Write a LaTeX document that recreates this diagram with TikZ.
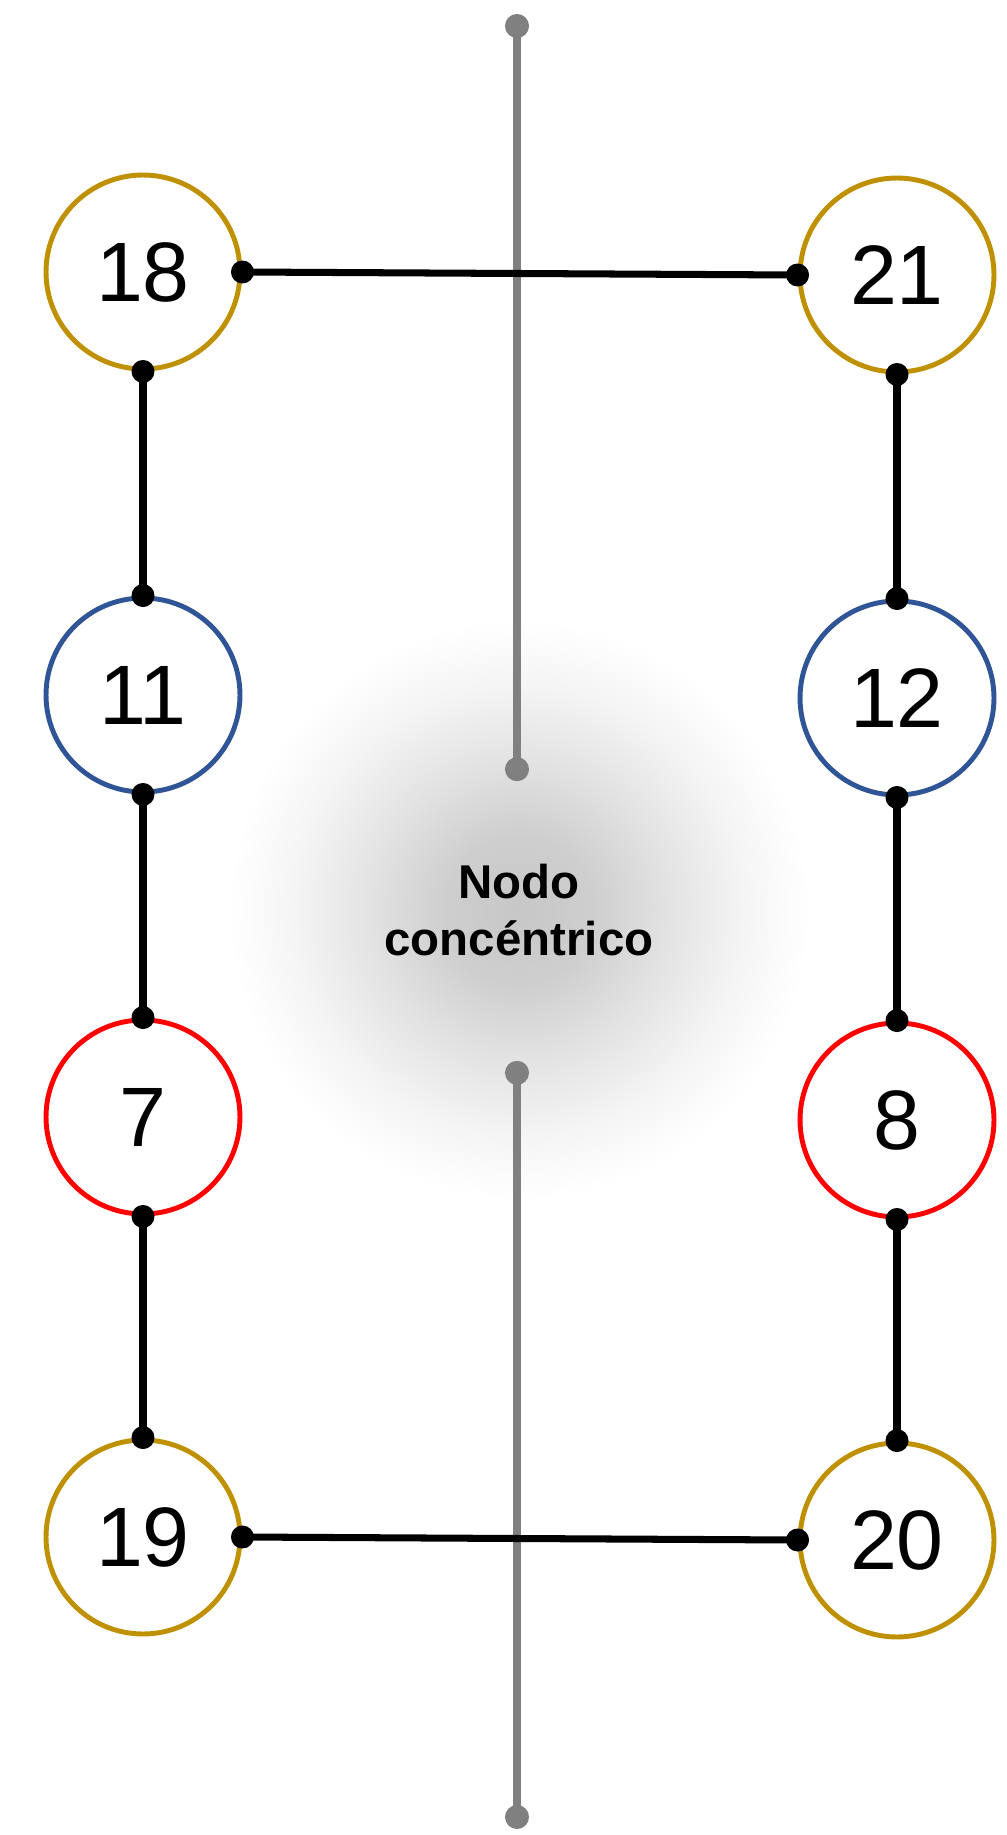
\documentclass[tikz,border=0pt]{standalone}
\usepackage{fontspec}
\setmainfont{Liberation Sans}
\usepackage{xcolor}
\usepackage{tikz}
\usetikzlibrary{arrows.meta,calc}
\definecolor{ringgold}{HTML}{BF9000}
\definecolor{ringblue}{HTML}{2F5597}
\definecolor{ringred}{HTML}{FF0000}
\definecolor{axisgray}{HTML}{808080}
\pgfdeclareradialshading{hubglow}{\pgfpoint{0bp}{0bp}}{%
  color(0bp)=(black!22); color(6bp)=(black!19); color(12bp)=(black!11);
  color(18bp)=(black!4); color(23bp)=(white); color(50bp)=(white)}

\begin{document}
\begin{tikzpicture}[x=0.02cm, y=-0.02cm,
  ring/.style={draw, circle, line width=2.8pt, minimum size=3.88cm, inner sep=0pt,
               font=\fontsize{48}{58}\selectfont},
  link/.style={line width=4pt, {Circle[length=13pt]}-{Circle[length=13pt]},
               shorten <=-6.5pt, shorten >=-6.5pt},
  axis/.style={axisgray, line width=4.5pt, {Circle[length=13.6pt]}-{Circle[length=13.6pt]},
               shorten <=-6.8pt, shorten >=-6.8pt},
  hub/.style={circle, minimum size=6.06cm, inner sep=0pt},
  hubtext/.style={align=center, font=\bfseries\fontsize{27}{32}\selectfont}
]
\useasboundingbox (0,0) rectangle (1007,1835);

% shaded centre
\coordinate (glow) at (519,910);
\shade[shading=hubglow] (glow) circle (6.3cm);
\node[hubtext] (hubtxt) at (glow) {Nodo\\concéntrico};
\node[hub] (hub) at (517,921) {};
\coordinate (axtop) at (517,26);
\coordinate (axbot) at (517,1817);

% left column
\node[ring, ringgold] (n18) at (143,272) {\color{black}18};
\node[ring, ringblue] (n11) at (143,695) {\color{black}11};
\node[ring, ringred]  (n7)  at (143,1117) {\color{black}7};
\node[ring, ringgold] (n19) at (143,1537) {\color{black}19};
% right column
\node[ring, ringgold] (n21) at (897,275) {\color{black}21};
\node[ring, ringblue] (n12) at (897,698) {\color{black}12};
\node[ring, ringred]  (n8)  at (897,1120) {\color{black}8};
\node[ring, ringgold] (n20) at (897,1540) {\color{black}20};

\draw[axis] (axtop) -- (hub.north);
\draw[axis] (hub.south) -- (axbot);

\draw[link] (n18.east) -- (n21.west);
\draw[link] (n19.east) -- (n20.west);
\draw[link] (n18.south) -- (n11.north);
\draw[link] (n11.south) -- (n7.north);
\draw[link] (n7.south) -- (n19.north);
\draw[link] (n21.south) -- (n12.north);
\draw[link] (n12.south) -- (n8.north);
\draw[link] (n8.south) -- (n20.north);
\end{tikzpicture}
\end{document}
